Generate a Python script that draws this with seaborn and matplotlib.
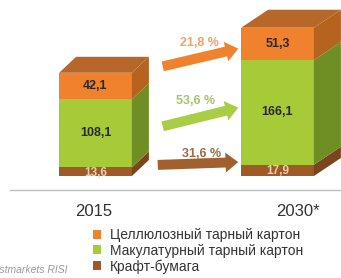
import numpy as np
import pandas as pd
import matplotlib.pyplot as plt
import seaborn as sns
from matplotlib.patches import Polygon, Patch

# data
years = ['2015', '2030*']
kraft = [13.6, 17.9]          # Крафт-бумага
recycled = [108.1, 166.1]     # Макулатурный тарный картон
virgin = [42.1, 51.3]         # Целлюлозный тарный картон
growth = ['21,8 %', '53,6 %', '31,6 %']
series_names = ['Целлюлозный тарный картон', 'Макулатурный тарный картон', 'Крафт-бумага']

df = pd.DataFrame({'year': years, 'kraft': kraft, 'recycled': recycled, 'virgin': virgin})
df['mid'] = df['kraft'] + df['recycled']
df['total'] = df['mid'] + df['virgin']

# colours
c_orange, c_orange_side = '#F0822E', '#B5631F'
c_green, c_green_side = '#A6CA38', '#6F8E23'
c_brown, c_brown_side = '#9E5A27', '#7A441C'
c_top = '#B8672B'

sns.set_theme(style='white')
plt.rcParams['font.family'] = ['Liberation Sans', 'DejaVu Sans']

W, H = 341, 278
fig = plt.figure(figsize=(W / 100, H / 100), dpi=100)
ax = fig.add_axes([0, 0, 1, 1])

# pixel mapping: x=0 -> 95.5 px, 1 unit = 182 px ; y=0 -> 102 px from bottom, 1 px = 1.587 units
px_x = 1 / 182
px_y = 1.587
bw = 0.40

sns.barplot(data=df, x='year', y='total', color=c_orange, saturation=1, width=bw,
            errorbar=None, linewidth=0, ax=ax)
sns.barplot(data=df, x='year', y='mid', color=c_green, saturation=1, width=bw,
            errorbar=None, linewidth=0, ax=ax)
sns.barplot(data=df, x='year', y='kraft', color=c_brown, saturation=1, width=bw,
            errorbar=None, linewidth=0, ax=ax)

ax.set_xlim(-95.5 * px_x, (W - 95.5) * px_x)
ax.set_ylim(-102 * px_y, (H - 102) * px_y)
ax.axis('off')

# 3D side and top faces
depth = [(17, 16), (27, 18)]
for i, row in df.iterrows():
    dx, dy = depth[i][0] * px_x, depth[i][1] * px_y
    xl, xr = i - bw / 2, i + bw / 2
    segs = [(0, row['kraft'], c_brown_side), (row['kraft'], row['mid'], c_green_side),
            (row['mid'], row['total'], c_orange_side)]
    for y0, y1, c in segs:
        ax.add_patch(Polygon([(xr, y0), (xr, y1), (xr + dx, y1 + dy), (xr + dx, y0 + dy)],
                             closed=True, fc=c, ec='none'))
    t = row['total']
    ax.add_patch(Polygon([(xl, t), (xr, t), (xr + dx, t + dy), (xl + dx, t + dy)],
                         closed=True, fc=c_top, ec='none'))

    # value labels
    ax.text(i, row['mid'] + row['virgin'] / 2, f"{row['virgin']:.1f}".replace('.', ','),
            ha='center', va='center', fontsize=9, fontweight='bold', color='#2a2a2a')
    ax.text(i, row['kraft'] + row['recycled'] / 2, f"{row['recycled']:.1f}".replace('.', ','),
            ha='center', va='center', fontsize=9, fontweight='bold', color='#2a2a2a')
    ax.text(i, row['kraft'] / 2 - 1.5, f"{row['kraft']:.1f}".replace('.', ','),
            ha='center', va='center', fontsize=8.5, fontweight='bold', color='#E9CDB2')

# growth arrows (figure pixel coords, origin bottom-left)
arrows = [((160, H - 67), (241, H - 48), c_orange, '#F2A06A', (199, H - 43)),
          ((160, H - 127), (241, H - 107), '#A9CE45', '#A5C46B', (196, H - 101)),
          ((155, H - 165), (241, H - 162), '#A3602F', '#A26A43', (202, H - 154))]
for (start, end, c, lc, lab), txt in zip(arrows, growth):
    ax.annotate('', xy=end, xycoords='figure pixels', xytext=start, textcoords='figure pixels',
                arrowprops=dict(arrowstyle='simple,head_length=0.7,head_width=1.1,tail_width=0.55',
                                mutation_scale=13, color=c, lw=0))
    fig.text(lab[0] / W, lab[1] / H, txt, ha='center', va='center', fontsize=9,
             fontweight='bold', color=lc)

# baseline
fig.add_artist(plt.Line2D([10 / W, 1], [1 - 190 / H, 1 - 190 / H], color='#bdbdbd', lw=1))

# year labels
for xpix, yr in zip([94, 298], years):
    fig.text(xpix / W, 1 - 211 / H, yr, ha='center', va='center', fontsize=12, color='#333333')

# legend
handles = [Patch(fc=c, ec='none') for c in [c_orange, c_green, c_brown]]
fig.legend(handles, series_names, loc='upper left', bbox_to_anchor=(93 / W, 1 - 228 / H),
           frameon=False, fontsize=10, handlelength=0.6, handleheight=0.6,
           handletextpad=0.6, labelspacing=0.12, borderpad=0, borderaxespad=0,
           labelcolor='#333333')

# source note (cut at left edge, as in the reference)
fig.text(68 / W, 1 - 270 / H, 'Источник: Lesprom, Forestmarkets RISI', ha='right', va='center',
         fontsize=7.5, style='italic', color='#9a9a9a')

fig.savefig('out.png', dpi=100)
